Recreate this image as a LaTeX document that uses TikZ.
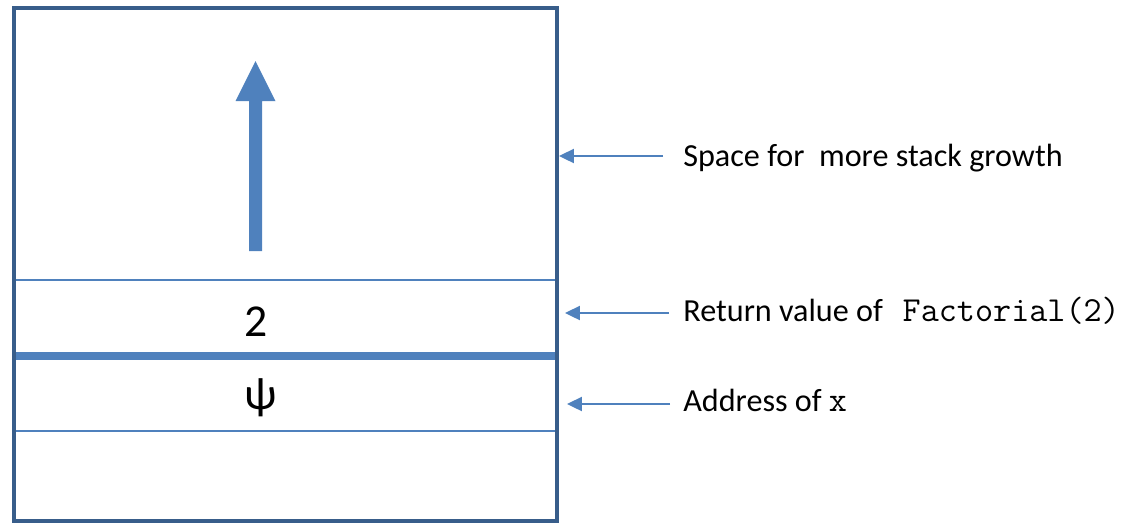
\documentclass[tikz,border=0pt]{standalone}
\usepackage{fontspec}
\setmainfont{Carlito}
\usetikzlibrary{arrows.meta}
\definecolor{accentblue}{RGB}{79,129,189}
\definecolor{edgeblue}{RGB}{56,93,138}
\newcommand\codetxt[1]{{\fontsize{20}{22}\ttfamily #1}}

\begin{document}
\begin{tikzpicture}[x=0.02cm,y=-0.02cm,
  cell/.style={inner sep=0pt,font=\fontsize{26}{30}\selectfont},
  lbl/.style={anchor=base west,inner sep=0pt,font=\fontsize{18.3}{22}\selectfont},
  sep/.style={accentblue,line width=1.1pt},
  ptr/.style={-{Triangle[length=8.5pt,width=8pt]},accentblue,line width=1.1pt}
]
\useasboundingbox (0,0) rectangle (1133,522);
% stack frame
\draw[sep] (14,280) -- (557,280);
\draw[sep,line width=4pt] (14,356) -- (557,356);
\draw[sep] (14,431) -- (557,431);
\draw[edgeblue,line width=2.4pt] (14,8) rectangle (557,521);
% growth arrow
\fill[accentblue] (249,251) -- (249,101) -- (235.5,101) -- (255.5,61)
  -- (275.5,101) -- (262,101) -- (262,251) -- cycle;
\node[cell] (ret) at (256,322) {2};
\node[cell] (addr) at (261,398) {ψ};
% labels
\node[lbl] (spacelbl) at (683,166) {Space for\ \ more stack growth};
\node[lbl] (retlbl) at (683,321) {Return value of\ \ \hspace{3pt}\codetxt{Factorial(2)}};
\node[lbl] (addrlbl) at (683,411) {Address of \codetxt{x}};
\coordinate (spacetail) at (663,156);
\coordinate (spacetip) at (559,156);
\coordinate (rettail) at (669,313);
\coordinate (rettip) at (565,313);
\coordinate (addrtail) at (670,404);
\coordinate (addrtip) at (567,404);
\draw[ptr] (spacetail) -- (spacetip);
\draw[ptr] (rettail) -- (rettip);
\draw[ptr] (addrtail) -- (addrtip);
\end{tikzpicture}
\end{document}
